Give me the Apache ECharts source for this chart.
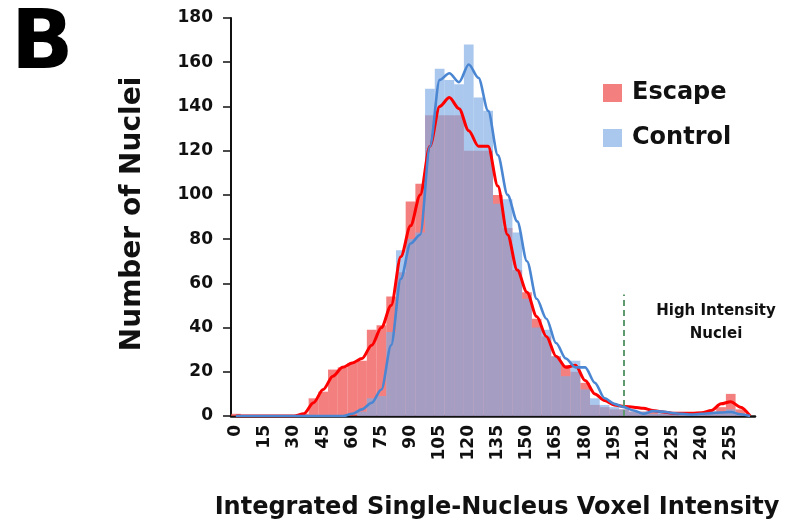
<!DOCTYPE html>
<html>
<head>
<meta charset="utf-8">
<script src="https://cdn.jsdelivr.net/npm/echarts@6/dist/echarts.min.js"></script>
<style>
  html, body { margin: 0; padding: 0; background: #fff; }
  #chart { width: 786px; height: 525px; }
</style>
</head>
<body>
<div id="chart"></div>
<script>
// bins of the intensity histogram (bin centres)
var bins = ['0','5','10','15','20','25','30','35','40','45','50','55','60','65','70','75','80','85','90','95',
            '100','105','110','115','120','125','130','135','140','145','150','155','160','165','170','175','180','185','190','195',
            '200','205','210','215','220','225','230','235','240','245','250','255','260','265'];

// bar heights
var escapeBars  = [1,0,0,0,0,0,0,1,8,11,21,22,24,25,39,41,54,65,97,105,
                   136,136,136,136,120,120,120,100,85,66,56,44,36,27,23,20,15,5,4,3,
                   3,2,2,2,1,1,1,1,1,2,4,10,3,0];
var controlBars = [0,0,0,0,0,0,0,0,0,0,0,0,0,2,8,9,38,75,80,83,
                   148,157,152,150,168,144,138,96,98,83,53,40,39,27,18,25,12,8,5,4,
                   3,2,2,1,2,1,1,1,1,2,2,3,1,0];

// smoothed trend lines
var escapeLine  = [0,0,0,0,0,0,0,1,6,12,18,22,24,26,32,40,50,72,86,100,
                   122,140,144,139,129,122,122,104,82,66,56,45,36,27,22,23,16,10,7,5,
                   4.3,4,3.5,2.5,1.8,1.3,1.2,1.2,1.5,2.5,5.5,6.5,4,0];
var controlLine = [0,0,0,0,0,0,0,0,0,0,0,0,1,3,6,12,32,62,78,82,
                   122,152,155,151,159,153,138,118,100,88,70,53,44,33,26,22,22,15,8,5.5,
                   4,2.5,1,2.2,2,1.3,1,0.6,1,1.3,1.6,1.8,0.8,0];

var yTicks = [0, 20, 40, 60, 80, 100, 120, 140, 160, 180];

// half-bin tick marks along the x axis
var halfTicks = [];
for (var i = 0; i < bins.length * 2; i++) halfTicks.push('');

var font = 'DejaVu Sans';
var chart = echarts.init(document.getElementById('chart'));

var option = {
    animation: false,
    grid: { left: 231, right: 31, top: 18, bottom: 108 },
    legend: {
        data: ['Escape', 'Control'],
        orient: 'vertical',
        left: 598,
        top: 73,
        icon: 'rect',
        itemWidth: 19,
        itemHeight: 18,
        itemGap: 15,
        textStyle: { fontFamily: font, fontWeight: 'bold', fontSize: 24, color: '#111', lineHeight: 30, padding: [0, 0, 0, 5] }
    },
    xAxis: [{
        type: 'category',
        data: bins,
        boundaryGap: true,
        name: 'Integrated Single-Nucleus Voxel Intensity',
        nameLocation: 'middle',
        nameGap: 80,
        nameTextStyle: { fontFamily: font, fontWeight: 'bold', fontSize: 24, color: '#111', padding: [0, 0, 0, 8] },
        axisLine: { lineStyle: { color: '#111', width: 2.5 } },
        axisTick: { show: false },
        axisLabel: {
            interval: 2,
            rotate: 90,
            margin: 9,
            fontFamily: font,
            fontWeight: 'bold',
            fontSize: 17,
            color: '#111'
        }
    }, {
        type: 'category',
        data: halfTicks,
        position: 'bottom',
        axisLine: { show: false },
        axisLabel: { show: false },
        axisTick: { interval: 0, length: 5, lineStyle: { color: '#111', width: 1.5 } }
    }],
    yAxis: {
        type: 'value',
        min: yTicks[0],
        max: yTicks[yTicks.length - 1],
        interval: 20,
        name: 'Number of Nuclei',
        nameLocation: 'middle',
        nameGap: 84,
        nameTextStyle: { fontFamily: font, fontWeight: 'bold', fontSize: 28, color: '#111', padding: [0, 0, 0, 6] },
        splitLine: { show: false },
        axisLine: { show: true, lineStyle: { color: '#111', width: 2 } },
        axisTick: { show: true, length: 8, lineStyle: { color: '#111', width: 1.5 } },
        axisLabel: { margin: 18, fontFamily: font, fontWeight: 'bold', fontSize: 17, color: '#111' }
    },
    series: [{
        name: 'Escape',
        type: 'bar',
        data: escapeBars,
        barWidth: '100%',
        barGap: '-100%',
        itemStyle: { color: 'rgba(238,72,72,0.7)' },
        markLine: {
            silent: true,
            symbol: 'none',
            label: { show: false },
            lineStyle: { color: '#5f9a6e', type: [6, 4], width: 2 },
            data: [[{ coord: ['200', 0] }, { coord: ['200', 55] }]]
        }
    }, {
        name: 'Control',
        type: 'bar',
        data: controlBars,
        barWidth: '100%',
        barGap: '-100%',
        itemStyle: { color: 'rgba(130,172,228,0.68)' }
    }, {
        name: 'Escape trend',
        type: 'line',
        data: escapeLine,
        smooth: 0.3,
        smoothMonotone: 'x',
        showSymbol: false,
        lineStyle: { color: '#ff0000', width: 3 }
    }, {
        name: 'Control trend',
        type: 'line',
        data: controlLine,
        smooth: 0.3,
        smoothMonotone: 'x',
        showSymbol: false,
        lineStyle: { color: '#4a86d2', width: 2.6 }
    }],
    graphic: [{
        type: 'text',
        left: 11,
        top: 6,
        style: { text: 'B', fontFamily: font, fontWeight: 'bold', fontSize: 82, fill: '#000' }
    }, {
        type: 'text',
        x: 716,
        y: 300,
        style: {
            text: 'High Intensity\nNuclei',
            align: 'center',
            fontFamily: font,
            fontWeight: 'bold',
            fontSize: 15,
            lineHeight: 23,
            fill: '#111'
        }
    }]
};

chart.setOption(option);
</script>
</body>
</html>
